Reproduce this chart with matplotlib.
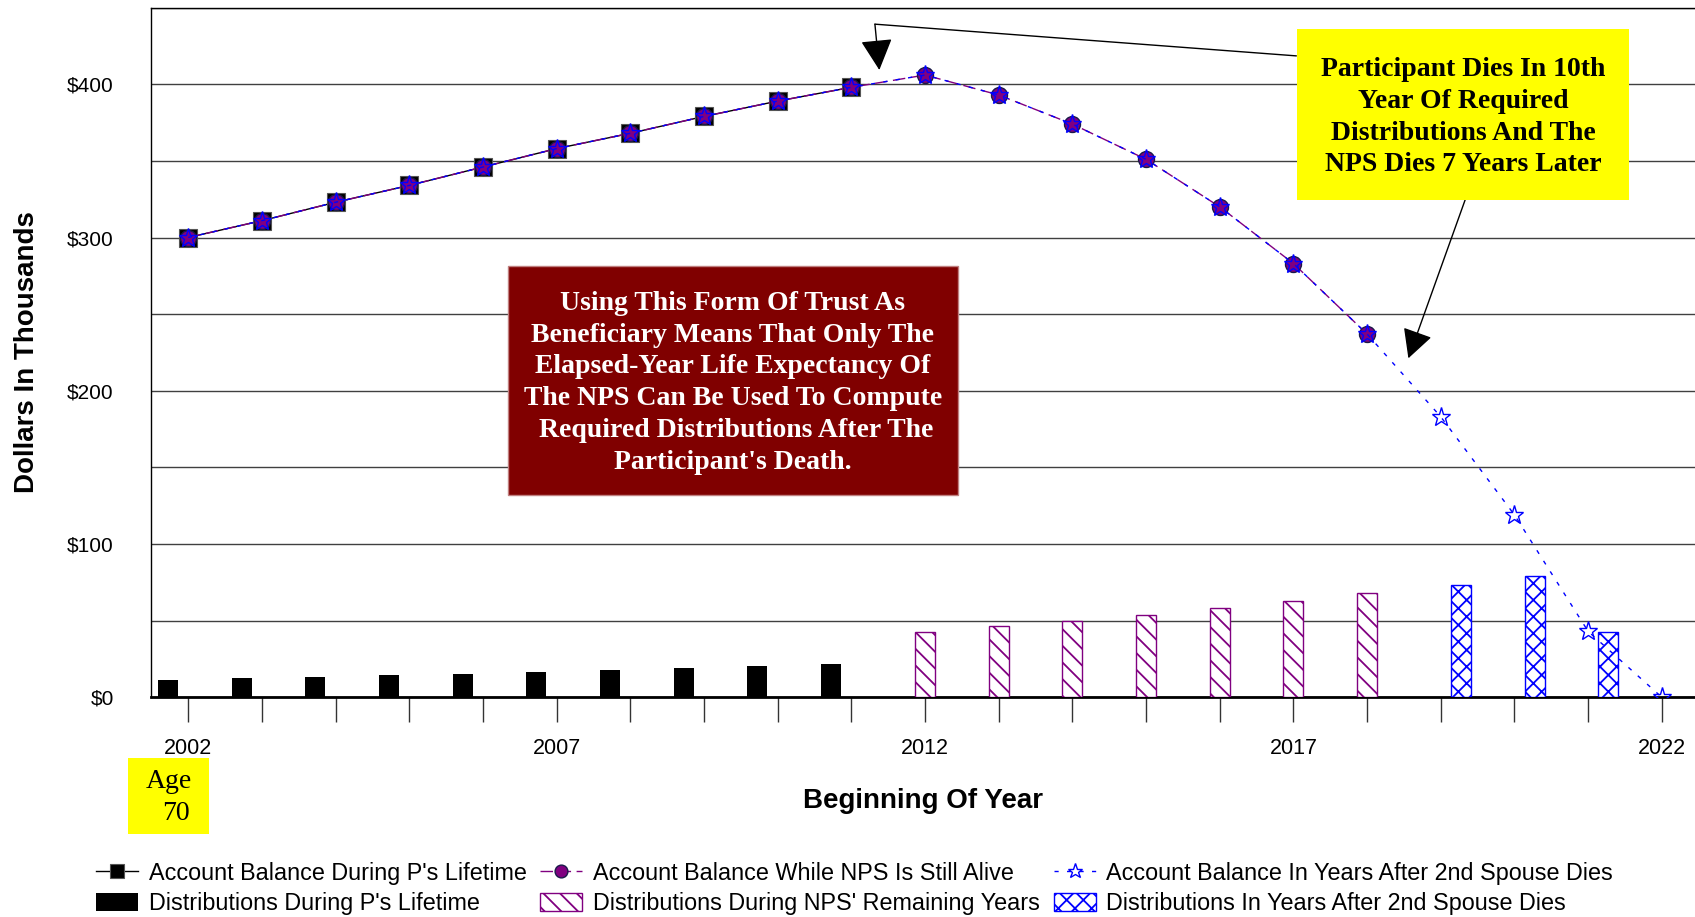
import matplotlib
matplotlib.use('Agg')
import matplotlib.pyplot as plt
from matplotlib.patches import Rectangle
import numpy as np

plt.rcParams['font.family'] = 'Liberation Sans'
plt.rcParams['hatch.linewidth'] = 1.3

# years on the x axis
years = list(range(2002, 2023))
tick_labels = [str(y) if (y - 2002) % 5 == 0 else '' for y in years]

# account balance, in thousands
balance_p = [300, 311, 323, 334, 346, 358, 368, 379, 389, 398]
balance_nps = balance_p + [406, 393, 374, 351, 320, 283, 237]
balance_after = balance_nps + [183, 119, 43, 0]

# distributions, in thousands
dist_p = [11.3, 12.6, 13.5, 14.4, 15.4, 16.5, 17.8, 18.9, 20.5, 21.8]
dist_nps = [42.9, 46.2, 50.0, 54.0, 58.3, 63.1, 68.1]
dist_after = [73.3, 79.2, 42.6]

yr_p = np.array(years[:len(balance_p)])
yr_nps = np.array(years[:len(balance_nps)])
yr_after = np.array(years[:len(balance_after)])
n1, n2 = len(dist_p), len(dist_p) + len(dist_nps)
dyr_p = np.array(years[:n1])
dyr_nps = np.array(years[n1:n2])
dyr_after = np.array(years[n2:n2 + len(dist_after)])

PURPLE = '#800080'
BLUE = '#0000ff'

fig = plt.figure(figsize=(16.95, 9.17), dpi=100)
ax = fig.add_axes([0.0893, 0.2396, 0.9107, 0.7521])

bw = 0.27
off = 0.275
b1 = ax.bar(dyr_p - off, dist_p, width=bw, color='black', zorder=3)
b2 = ax.bar(dyr_nps, dist_nps, width=bw, facecolor='white', edgecolor=PURPLE,
            hatch='\\\\', lw=1, zorder=3)
b3 = ax.bar(dyr_after + off, dist_after, width=bw, facecolor='white', edgecolor=BLUE,
            hatch='xx', lw=1, zorder=3)

l1, = ax.plot(yr_p, balance_p, color='black', lw=1, marker='s', ms=12.5,
              mfc='black', mec='#555555', mew=0.8, zorder=4)
l2, = ax.plot(yr_nps, balance_nps, color=PURPLE, lw=1, ls=(0, (9, 4)), marker='o',
              ms=11.5, mfc=PURPLE, mec='#1a1a4a', mew=1, zorder=5)
l3, = ax.plot(yr_after, balance_after, color=BLUE, lw=1, ls=(0, (3, 6)), marker='*',
              ms=14, mfc='none', mec=BLUE, mew=1, zorder=6)

ax.set_xlim(2001.5, 2022.45)
ax.set_ylim(0, 450)
ax.set_yticks(np.arange(0, 401, 100))
ax.set_yticklabels(['$%d' % v for v in range(0, 401, 100)])
ax.set_yticks(np.arange(50, 451, 50), minor=True)
ax.grid(axis='y', which='both', color='#404040', lw=1)
ax.set_axisbelow(True)
ax.tick_params(axis='y', which='both', length=0, pad=27, labelsize=15)
ax.set_xticks(years)
ax.set_xticklabels(tick_labels)
ax.tick_params(axis='x', length=18, width=1, color='#333333', direction='out',
               pad=11, labelsize=15.5)

ax.spines['right'].set_visible(False)
ax.spines['bottom'].set_linewidth(2)
ax.spines['left'].set_linewidth(1)
ax.spines['top'].set_linewidth(1)

ax.set_xlabel('Beginning Of Year', fontsize=20, fontweight='bold', va='center')
ax.xaxis.set_label_coords(0.5, -0.150)
ax.set_ylabel('Dollars In Thousands', fontsize=20, fontweight='bold', va='center')
ax.yaxis.set_label_coords(-0.0805, 0.5)

# red note box
fig.patches.append(Rectangle((0.2997, 0.4602), 0.2655, 0.2497, transform=fig.transFigure,
                             facecolor='#800000', edgecolor='#c08080', lw=1, zorder=10))
fig.text(0.4324, 0.5825,
         "Using This Form Of Trust As\nBeneficiary Means That Only The\n"
         "Elapsed-Year Life Expectancy Of\nThe NPS Can Be Used To Compute\n"
         " Required Distributions After The\nParticipant's Death.",
         ha='center', va='center', color='white', fontsize=20, fontweight='bold',
         family='Liberation Serif', linespacing=1.36, zorder=11)

# yellow note box
fig.patches.append(Rectangle((0.7652, 0.7819), 0.1959, 0.1865, transform=fig.transFigure,
                             facecolor='#ffff00', edgecolor='none', zorder=10))
fig.text(0.8631, 0.8722,
         "Participant Dies In 10th\nYear Of Required\nDistributions And The\nNPS Dies 7 Years Later",
         ha='center', va='center', color='black', fontsize=20, fontweight='bold',
         family='Liberation Serif', linespacing=1.36, zorder=11)

# age box
fig.patches.append(Rectangle((0.0755, 0.0905), 0.0478, 0.0829, transform=fig.transFigure,
                             facecolor='#ffff00', edgecolor='none', zorder=10))
fig.text(168.7 / 1695, 1 - 781.7 / 917, 'Age', ha='center', va='center', fontsize=20,
         family='Liberation Serif', zorder=11)
fig.text(176 / 1695, 1 - 813.3 / 917, '70', ha='center', va='center', fontsize=20,
         family='Liberation Serif', zorder=11)

# arrows
ax.annotate('', xy=(2011.32, 439.2), xytext=(2017.04, 418.5),
            arrowprops=dict(arrowstyle='-', color='black', lw=1, shrinkA=0, shrinkB=0),
            annotation_clip=False, zorder=8)
ax.annotate('', xy=(2011.38, 409.3), xytext=(2011.32, 439.2),
            arrowprops=dict(arrowstyle='-|>,head_length=1.95,head_width=1.0', mutation_scale=10,
                            color='black', lw=1, shrinkA=0, shrinkB=0),
            annotation_clip=False, zorder=8)
ax.annotate('', xy=(2018.56, 221.2), xytext=(2019.33, 324.5),
            arrowprops=dict(arrowstyle='-|>,head_length=1.8,head_width=0.95', mutation_scale=10,
                            color='black', lw=1, shrinkA=0, shrinkB=0),
            annotation_clip=False, zorder=8)

handles = [l1, b1, l2, b2, l3, b3]
labels = ["Account Balance During P's Lifetime", "Distributions During P's Lifetime",
          "Account Balance While NPS Is Still Alive", "Distributions During NPS' Remaining Years",
          "Account Balance In Years After 2nd Spouse Dies", "Distributions In Years After 2nd Spouse Dies"]
fig.legend(handles, labels, ncol=3, loc='center', bbox_to_anchor=(0.5042, 0.031),
           frameon=False, fontsize=16.8, numpoints=1, handlelength=1.8, handleheight=0.85,
           handletextpad=0.45, columnspacing=0.6, labelspacing=0.3, borderpad=0,
           markerscale=0.8)

fig.savefig('out.png', dpi=100)
